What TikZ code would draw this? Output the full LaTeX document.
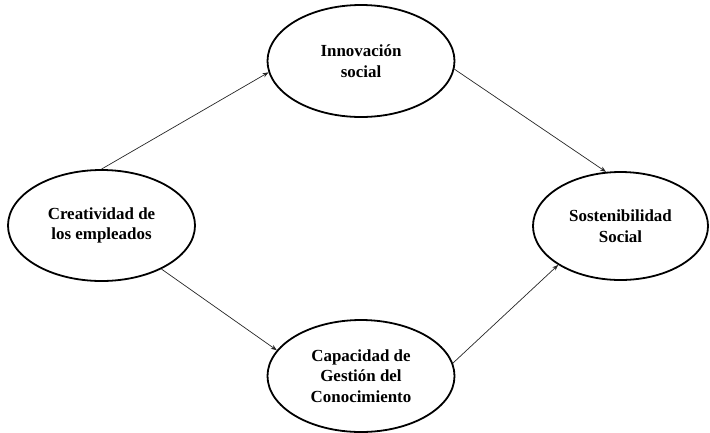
\documentclass[tikz,border=0pt]{standalone}
\usepackage{fontspec}
\setmainfont{Liberation Serif}
\usetikzlibrary{shapes.geometric,arrows.meta}
\begin{document}
\begin{tikzpicture}[x=1bp,y=-1bp,
  construct/.style={ellipse,draw,line width=1.8bp,inner sep=0pt,
    align=center,font=\fontsize{17}{20.5}\selectfont\bfseries},
  link/.style={line width=0.7bp,draw=black!85,-{Stealth[length=6bp,width=4.5bp]}}]
\useasboundingbox (0,0) rectangle (710,432);
\node[construct,minimum width=187bp,minimum height=111bp] (crea) at (101.5,225.5) {Creatividad de\\los empleados};
\node[construct,minimum width=187bp,minimum height=112bp] (inno) at (361,61) {Innovación\\social};
\node[construct,minimum width=175bp,minimum height=108bp] (sost) at (620.5,226) {Sostenibilidad\\Social};
\node[construct,minimum width=187bp,minimum height=112bp] (cap) at (361,376) {Capacidad de\\Gestión del\\Conocimiento};
\draw[link] (crea.90) -- (inno.187);
\draw[link] (inno.-5) -- (sost.105);
\draw[link] (crea.-36.5) -- (cap.163.4);
\draw[link] (cap.8.75) -- (sost.212.8);
\end{tikzpicture}
\end{document}
